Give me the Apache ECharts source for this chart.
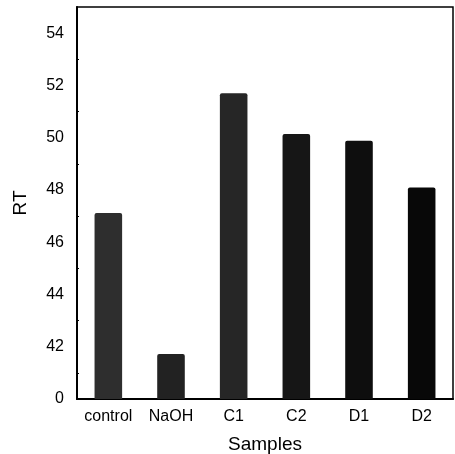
<!DOCTYPE html>
<html>
<head>
<meta charset="utf-8">
<script src="https://cdn.jsdelivr.net/npm/echarts@6/dist/echarts.min.js"></script>
<style>
  html, body { margin: 0; padding: 0; background: #fff; }
  #chart { width: 455px; height: 454px; }
</style>
</head>
<body>
<div id="chart"></div>
<script>
// 样本名称和RT值
var categories = ['control', 'NaOH', 'C1', 'C2', 'D1', 'D2'];
var rtValues = [47.12, 41.72, 51.7, 50.14, 49.88, 48.09];
var barColors = ['#2e2e2e', '#222222', '#262626', '#161616', '#0e0e0e', '#080808'];

var chart = echarts.init(document.getElementById('chart'));
var fontFamily = 'Liberation Sans, Arial, sans-serif';

var option = {
  animation: false,
  grid: {
    left: 77,
    right: 2,
    top: 7,
    bottom: 55,
    outerBoundsMode: 'none',
    containLabel: false,
    show: true,
    borderColor: '#000',
    borderWidth: 1.5
  },
  xAxis: {
    type: 'category',
    data: categories,
    name: 'Samples',
    nameLocation: 'middle',
    nameGap: 36,
    nameTextStyle: { color: '#000', fontSize: 19, fontFamily: fontFamily },
    axisLine: { lineStyle: { color: '#000', width: 2 } },
    axisTick: { inside: true, length: 3, lineStyle: { color: '#000' } },
    axisLabel: { color: '#000', fontSize: 16, fontFamily: fontFamily, margin: 10 }
  },
  yAxis: {
    type: 'value',
    min: 40,
    max: 55,
    interval: 2,
    name: 'RT',
    nameLocation: 'middle',
    nameGap: 47,
    nameTextStyle: { color: '#000', fontSize: 19, fontFamily: fontFamily },
    axisLine: { show: true, lineStyle: { color: '#000', width: 2 } },
    axisTick: { inside: true, length: 4, lineStyle: { color: '#000' } },
    minorTick: { show: true, splitNumber: 2, length: 2, lineStyle: { color: '#000' } },
    splitLine: { show: false },
    axisLabel: {
      color: '#000',
      fontSize: 16,
      fontFamily: fontFamily,
      margin: 13,
      formatter: function (v) {
        if (v === 40) return '0';
        if (v === 55) return '';
        return String(v);
      }
    }
  },
  series: [{
    type: 'bar',
    barWidth: '44%',
    data: rtValues.map(function (v, i) {
      return { value: v, itemStyle: { color: barColors[i] } };
    }),
    itemStyle: { borderRadius: [2, 2, 0, 0] }
  }]
};
chart.setOption(option, true);
</script>
</body>
</html>
